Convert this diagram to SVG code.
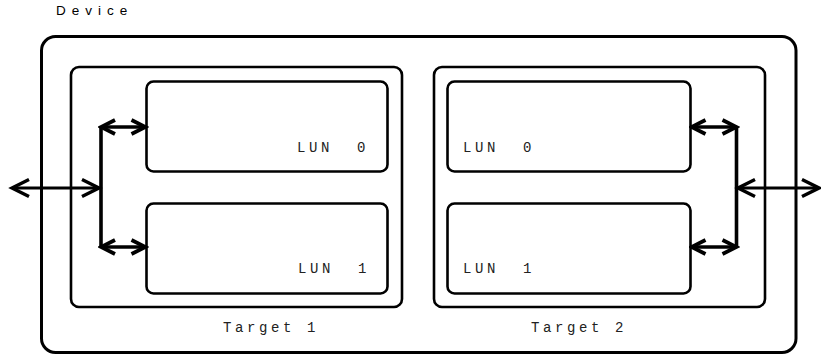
<svg xmlns="http://www.w3.org/2000/svg" width="821" height="360" viewBox="0 0 821 360">
  <style>
    .box { fill: none; stroke: #000; }
    .device { stroke-width: 3; }
    .target { stroke-width: 2.6; }
    .lun { stroke-width: 2.6; }
    .bus { fill: none; stroke: #000; stroke-width: 3.6; }
    .link { fill: none; stroke: #000; stroke-width: 3; }
    .mono { font-family: "Liberation Mono", "Courier New", monospace; font-size: 14px; letter-spacing: 3.6px; fill: #222; }
    .sans { font-family: "Liberation Sans", Arial, sans-serif; font-size: 13.5px; letter-spacing: 6px; fill: #000; }
  </style>
  <defs>
    <marker id="headBig" viewBox="0 0 24 24" refX="20" refY="12" markerWidth="24" markerHeight="24" markerUnits="userSpaceOnUse" orient="auto-start-reverse">
      <path d="M3,3.5 L20,12 L3,20.5" fill="none" stroke="#000" stroke-width="3.4"/>
    </marker>
    <marker id="headSmall" viewBox="0 0 20 20" refX="17" refY="10" markerWidth="20" markerHeight="20" markerUnits="userSpaceOnUse" orient="auto-start-reverse">
      <path d="M3,3 L17,10 L3,17" fill="none" stroke="#000" stroke-width="3.8"/>
    </marker>
  </defs>

  <text class="sans" x="56" y="15">Device</text>

  <g id="device">
    <rect class="box device" x="41.5" y="36.5" width="754.5" height="316" rx="14"/>
  </g>

  <g id="target1">
    <rect class="box target" x="71" y="67" width="331" height="240" rx="8"/>
    <text class="mono" x="223" y="332">Target 1</text>
  </g>
  <g id="target2">
    <rect class="box target" x="434" y="67" width="331" height="240" rx="8"/>
    <text class="mono" x="531" y="332">Target 2</text>
  </g>

  <g id="t1-lun0">
    <rect class="box lun" x="146.5" y="81.5" width="241" height="90" rx="7"/>
    <text class="mono" x="297" y="152" word-spacing="12">LUN 0</text>
  </g>
  <g id="t1-lun1">
    <rect class="box lun" x="146.5" y="203.5" width="241" height="90" rx="7"/>
    <text class="mono" x="298" y="273" word-spacing="12">LUN 1</text>
  </g>
  <g id="t2-lun0">
    <rect class="box lun" x="447.5" y="81.5" width="243" height="90" rx="7"/>
    <text class="mono" x="463" y="152" word-spacing="12">LUN 0</text>
  </g>
  <g id="t2-lun1">
    <rect class="box lun" x="447.5" y="203.5" width="243" height="90" rx="7"/>
    <text class="mono" x="463" y="273" word-spacing="12">LUN 1</text>
  </g>

  <g id="connectors">
    <!-- left side: host link and bus to LUNs -->
    <line class="link" x1="12" y1="188" x2="99" y2="188" marker-start="url(#headBig)" marker-end="url(#headBig)"/>
    <polyline class="bus" points="101,127 101,247"/>
    <line class="bus" x1="101" y1="127" x2="145.5" y2="127" marker-start="url(#headSmall)" marker-end="url(#headSmall)"/>
    <line class="bus" x1="101" y1="247" x2="145.5" y2="247" marker-start="url(#headSmall)" marker-end="url(#headSmall)"/>
    <!-- right side: bus from LUNs to host link -->
    <polyline class="bus" points="736.5,127 736.5,247"/>
    <line class="bus" x1="691.5" y1="127" x2="736.5" y2="127" marker-start="url(#headSmall)" marker-end="url(#headSmall)"/>
    <line class="bus" x1="691.5" y1="247" x2="736.5" y2="247" marker-start="url(#headSmall)" marker-end="url(#headSmall)"/>
    <line class="link" x1="738" y1="188" x2="819" y2="188" marker-start="url(#headBig)" marker-end="url(#headBig)"/>
  </g>
</svg>
